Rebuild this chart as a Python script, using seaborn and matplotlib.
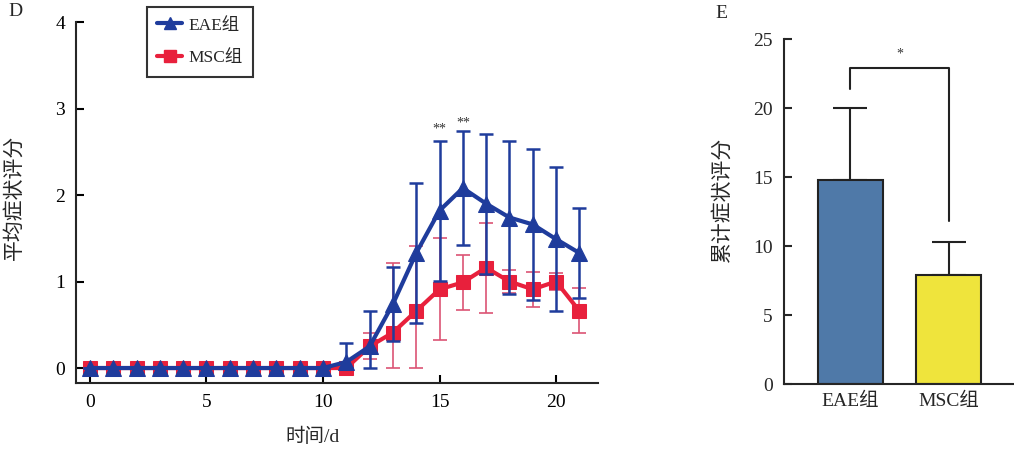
import numpy as np
import pandas as pd
import matplotlib
matplotlib.use("Agg")
import matplotlib.pyplot as plt
from matplotlib.lines import Line2D
import seaborn as sns

# ---------------- data ----------------
days = list(range(22))
eae_mean = [0, 0, 0, 0, 0, 0, 0, 0, 0, 0, 0, 0.07, 0.25, 0.74, 1.33, 1.82, 2.08, 1.90, 1.74, 1.66, 1.49, 1.33]
eae_sd = [0, 0, 0, 0, 0, 0, 0, 0, 0, 0, 0, 0.22, 0.41, 0.43, 0.81, 0.81, 0.66, 0.81, 0.88, 0.87, 0.83, 0.52]
msc_mean = [0, 0, 0, 0, 0, 0, 0, 0, 0, 0, 0, 0, 0.25, 0.41, 0.66, 0.91, 0.99, 1.16, 1.00, 0.91, 1.00, 0.66]
msc_sd = [0, 0, 0, 0, 0, 0, 0, 0, 0, 0, 0, 0, 0.15, 0.80, 0.75, 0.59, 0.32, 0.52, 0.13, 0.20, 0.10, 0.26]
star_days = [15, 16]
star_y = [2.69, 2.76]
star_text = ["**", "**"]

groups = ["EAE组", "MSC组"]
cum_mean = [14.8, 7.9]
cum_sd = [5.2, 2.4]
bracket_x = [0, 0, 1, 1]
bracket_y = [21.4, 22.95, 22.95, 11.8]
bracket_star = "*"

# ---------------- style ----------------
sns.set_style("ticks")
plt.rcParams["font.family"] = ["Liberation Serif", "Noto Sans CJK SC", "DejaVu Sans"]
plt.rcParams["axes.linewidth"] = 1.5
FS = 14

BLUE = "#1f3c9c"
RED = "#e8203c"
RED_ERR = "#dc5474"
BAR_BLUE = "#4f79a8"
BAR_YEL = "#efe43c"

fig = plt.figure(figsize=(10.14, 4.5), dpi=100)

# ---------------- panel D ----------------
ax1 = fig.add_axes([76 / 1014, 1 - 383 / 450, (598 - 76) / 1014, (383 - 22) / 450])
df = pd.DataFrame({
    "day": days * 2,
    "score": eae_mean + msc_mean,
    "group": ["EAE组"] * len(days) + ["MSC组"] * len(days),
})

em = np.array(eae_mean); es = np.array(eae_sd)
mm = np.array(msc_mean); ms = np.array(msc_sd)

# red first (underneath)
ax1.errorbar(days, mm, yerr=[mm - np.clip(mm - ms, 0, None), ms], fmt="none",
             ecolor=RED_ERR, elinewidth=1.2, capsize=5, capthick=1.2, zorder=2)
sns.lineplot(data=df[df.group == "MSC组"], x="day", y="score", ax=ax1, color=RED,
             marker="s", markersize=10, markeredgecolor=RED, linewidth=3, legend=False, zorder=3)
ax1.errorbar(days, em, yerr=[em - np.clip(em - es, 0, None), es], fmt="none",
             ecolor=BLUE, elinewidth=1.8, capsize=5, capthick=1.8, zorder=4)
sns.lineplot(data=df[df.group == "EAE组"], x="day", y="score", ax=ax1, color=BLUE,
             marker="^", markersize=11, markeredgecolor=BLUE, linewidth=3, legend=False, zorder=5)

for d, yv, t in zip(star_days, star_y, star_text):
    ax1.text(d, yv, t, ha="center", va="bottom", fontsize=10, color="#333333")

ax1.set_xlim(-0.6, 21.8)
ax1.set_ylim(-0.173, 4)
ax1.set_xticks([0, 5, 10, 15, 20])
ax1.set_yticks([0, 1, 2, 3, 4])
ax1.tick_params(direction="in", length=6, width=1.5, labelsize=FS, colors="black")
ax1.tick_params(axis="y", pad=8)
ax1.tick_params(axis="x", pad=8)
sns.despine(ax=ax1)
ax1.set_xlabel("")
ax1.set_ylabel("")
fig.text(313 / 1014, 1 - 437 / 450, "时间/d", fontsize=FS, ha="center", va="center")
fig.text(15 / 1014, 1 - 197 / 450, "平均症状评分", fontsize=15, ha="center", va="center",
         rotation=90)

handles = [
    Line2D([], [], color=BLUE, marker="^", markersize=9, linewidth=3),
    Line2D([], [], color=RED, marker="s", markersize=8, linewidth=3),
]
leg = fig.legend(handles, groups, loc="upper left", bbox_to_anchor=(147 / 1014, 1 - 7 / 450),
                 frameon=True, fancybox=False, edgecolor="black", fontsize=12.5,
                 handlelength=1.4, labelspacing=0.95, borderpad=0.6, handletextpad=0.4,
                 borderaxespad=0)
leg.get_frame().set_linewidth(1.5)

fig.text(8 / 1014, 1 - 12 / 450, "D", fontsize=FS, ha="left", va="center")

# ---------------- panel E ----------------
ax2 = fig.add_axes([784 / 1014, 1 - 384.3 / 450, (1014 - 784) / 1014, (384.3 - 39.3) / 450])
bdf = pd.DataFrame({"group": groups, "value": cum_mean})
sns.barplot(data=bdf, x="group", y="value", hue="group", palette=[BAR_BLUE, BAR_YEL],
            saturation=1, width=0.66, edgecolor="#222222", linewidth=1.5, ax=ax2,
            legend=False, zorder=2)
ax2.errorbar([0, 1], cum_mean, yerr=[[0, 0], cum_sd], fmt="none", ecolor="#222222",
             elinewidth=1.5, capsize=12, capthick=1.5, zorder=1)
ax2.plot(bracket_x, bracket_y, color="#222222", linewidth=1.5)
ax2.text(np.mean(bracket_x), bracket_y[1] + 0.5, bracket_star, ha="center", va="bottom",
         fontsize=10, color="#333333")

ax2.set_xlim(-0.67, 1.66)
ax2.set_ylim(0, 25)
ax2.set_yticks([0, 5, 10, 15, 20, 25])
ax2.tick_params(axis="y", direction="in", length=6, width=1.5, labelsize=FS, pad=8)
ax2.tick_params(axis="x", length=0, labelsize=FS, pad=6)
sns.despine(ax=ax2)
ax2.set_xlabel("")
ax2.set_ylabel("")
fig.text(723 / 1014, 1 - 199 / 450, "累计症状评分", fontsize=15, ha="center", va="center",
         rotation=90)

fig.text(721 / 1014, 1 - 14 / 450, "E", fontsize=FS, ha="center", va="center")

fig.savefig("out.png", dpi=100)
